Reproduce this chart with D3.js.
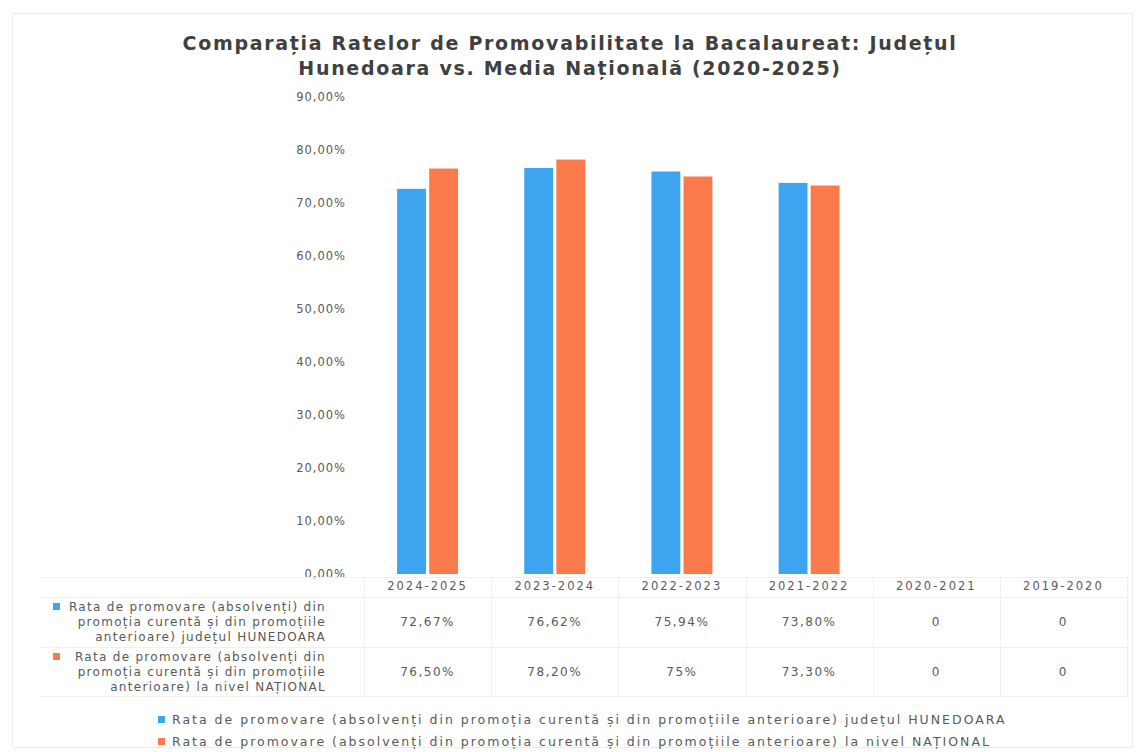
<!DOCTYPE html>
<html>
<head>
<meta charset="utf-8">
<script src="https://cdn.jsdelivr.net/npm/d3@7"></script>
<style>
  body { margin: 0; background: #fff; }
  svg { display: block; }
</style>
</head>
<body>
<div id="chart"></div>
<script>
// date
const categories = ["2024-2025", "2023-2024", "2022-2023", "2021-2022", "2020-2021", "2019-2020"];
const hunedoaraValues = [72.67, 76.62, 75.94, 73.80, 0, 0];
const nationalValues = [76.50, 78.20, 75, 73.30, 0, 0];
const hunedoaraLabels = ["72,67%", "76,62%", "75,94%", "73,80%", "0", "0"];
const nationalLabels = ["76,50%", "78,20%", "75%", "73,30%", "0", "0"];
const yTicks = [0, 10, 20, 30, 40, 50, 60, 70, 80, 90];
const seriesNames = ["Hunedoara", "National"];
const legendNames = [
    "Rata de promovare (absolvenți din promoția curentă și din promoțiile anterioare) județul HUNEDOARA",
    "Rata de promovare (absolvenți din promoția curentă și din promoțiile anterioare) la nivel NAȚIONAL"
];
const rowHeaderLines = [
    ["Rata de promovare (absolvenți) din", "promoția curentă și din promoțiile", "anterioare) județul HUNEDOARA"],
    ["Rata de promovare (absolvenți din", "promoția curentă și din promoțiile", "anterioare) la nivel NAȚIONAL"]
];
const titleLines = [
    "Comparația Ratelor de Promovabilitate la Bacalaureat: Județul",
    "Hunedoara vs. Media Națională (2020-2025)"
];

const colors = ["#3DA5EF", "#FA7A4C"];
const width = 1136, height = 752;
const plot = { left: 364, right: 1127, top: 97, bottom: 574 };
const textColor = "#595959";

const svg = d3.select("#chart").append("svg")
    .attr("width", width)
    .attr("height", height)
    .style("font-family", "'DejaVu Sans', sans-serif");

// chenar exterior
svg.append("rect")
    .attr("x", 12.5).attr("y", 13.5)
    .attr("width", 1120).attr("height", 734)
    .attr("fill", "none")
    .attr("stroke", "#ececec");

// titlu
svg.append("g").selectAll("text")
    .data(titleLines)
    .join("text")
    .attr("x", 570)
    .attr("y", (d, i) => 50 + i * 25)
    .attr("text-anchor", "middle")
    .attr("font-size", "19px")
    .attr("font-weight", "bold")
    .attr("letter-spacing", "1.7px")
    .attr("fill", "#404040")
    .text(d => d);

const x0 = d3.scaleBand()
    .domain(categories)
    .range([plot.left, plot.right])
    .paddingInner(0.47)
    .paddingOuter(0.235);

const x1 = d3.scaleBand()
    .domain(seriesNames)
    .range([0, x0.bandwidth()])
    .padding(0.1);

const y = d3.scaleLinear()
    .domain([0, 90])
    .range([plot.bottom, plot.top]);

// axa Y
const yAxis = svg.append("g")
    .attr("transform", `translate(${plot.left - 18},0)`)
    .call(d3.axisLeft(y)
        .tickValues(yTicks)
        .tickSize(0)
        .tickPadding(0)
        .tickFormat(d => d3.format(".2f")(d).replace(".", ",") + "%"));
yAxis.select(".domain").remove();
yAxis.selectAll("text")
    .attr("font-size", "11.5px")
    .attr("letter-spacing", "1px")
    .attr("fill", textColor)
    .attr("font-family", "'DejaVu Sans', sans-serif");

// bare
const groups = svg.append("g").selectAll("g")
    .data(categories)
    .join("g")
    .attr("transform", d => `translate(${x0(d)},0)`);

groups.selectAll("rect")
    .data((d, i) => [hunedoaraValues[i], nationalValues[i]].map((v, j) => ({ key: seriesNames[j], value: v })))
    .join("rect")
    .attr("x", d => x1(d.key))
    .attr("y", d => y(d.value))
    .attr("width", x1.bandwidth())
    .attr("height", d => y(0) - y(d.value))
    .attr("fill", (d, j) => colors[j]);

// tabel de date
const step = x0.step();
const tableTop = plot.bottom + 3;
const tableBottom = 696;
const colEdges = categories.map(c => x0(c) - x0.paddingInner() * step / 2);
colEdges.push(plot.right);

const grid = svg.append("g")
    .attr("stroke", "#f0f0f0")
    .attr("stroke-width", 1);
colEdges.forEach(xe => {
    grid.append("line")
        .attr("x1", Math.round(xe) + 0.5).attr("x2", Math.round(xe) + 0.5)
        .attr("y1", tableTop).attr("y2", tableBottom);
});
[tableTop, 597, 647, tableBottom].forEach(yy => {
    grid.append("line")
        .attr("x1", 40).attr("x2", plot.right)
        .attr("y1", yy + 0.5).attr("y2", yy + 0.5);
});

// etichete categorii
svg.append("g").selectAll("text")
    .data(categories)
    .join("text")
    .attr("x", d => x0(d) + x0.bandwidth() / 2)
    .attr("y", 590)
    .attr("text-anchor", "middle")
    .attr("font-size", "11.5px")
    .attr("letter-spacing", "2px")
    .attr("fill", textColor)
    .text(d => d);

// valori in tabel
[hunedoaraLabels, nationalLabels].forEach((labels, r) => {
    svg.append("g").selectAll("text")
        .data(labels)
        .join("text")
        .attr("x", (d, i) => x0(categories[i]) + x0.bandwidth() / 2)
        .attr("y", 626 + r * 50)
        .attr("text-anchor", "middle")
        .attr("font-size", "12px")
        .attr("letter-spacing", "1.5px")
        .attr("fill", textColor)
        .text(d => d);
});

// antet randuri
rowHeaderLines.forEach((lines, r) => {
    const g = svg.append("g");
    g.selectAll("text")
        .data(lines)
        .join("text")
        .attr("x", 326)
        .attr("y", (d, i) => 611 + r * 50 + i * 15)
        .attr("text-anchor", "end")
        .attr("font-size", "12px")
        .attr("letter-spacing", "1.3px")
        .attr("fill", textColor)
        .text(d => d);
    g.append("rect")
        .attr("x", 53).attr("y", 603 + r * 50)
        .attr("width", 7).attr("height", 7)
        .attr("fill", colors[r]);
});

// legenda
const legend = svg.append("g");
legendNames.forEach((name, i) => {
    legend.append("rect")
        .attr("x", 158).attr("y", 716 + i * 22)
        .attr("width", 7).attr("height", 7)
        .attr("fill", colors[i]);
    legend.append("text")
        .attr("x", 172).attr("y", 724 + i * 22)
        .attr("font-size", "12.5px")
        .attr("letter-spacing", "2px")
        .attr("fill", textColor)
        .text(name);
});
</script>
</body>
</html>
